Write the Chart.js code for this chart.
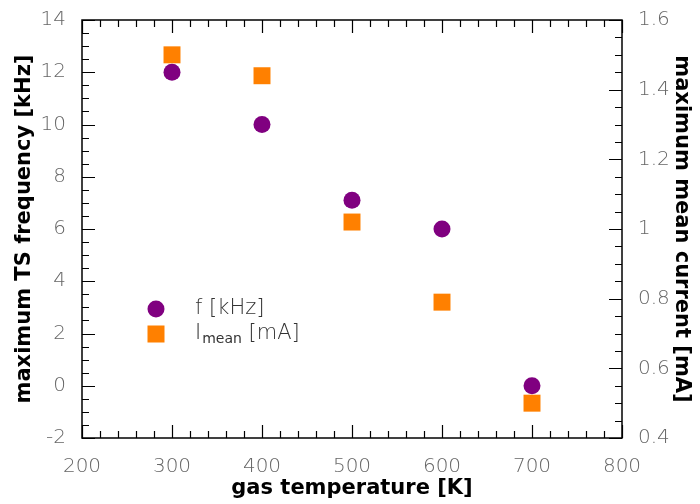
<!DOCTYPE html>
<html>
<head>
<meta charset="utf-8">
<script src="https://cdn.jsdelivr.net/npm/chart.js@4.4.0/dist/chart.umd.min.js"></script>
<style>
  html, body { margin: 0; padding: 0; background: #fff; }
  #wrap { width: 700px; height: 504px; }
</style>
</head>
<body>
<div id="wrap"><canvas id="c" width="700" height="504"></canvas></div>
<script>
// gas temperature [K]
const temps = [300, 400, 500, 600, 700];
// maximum TS frequency [kHz]
const freqKHz = [12, 10, 7.1, 6, 0];
// maximum mean current [mA]
const currentMA = [1.50, 1.44, 1.02, 0.79, 0.50];

const xTicks = [200, 300, 400, 500, 600, 700, 800];
const yLeftTicks = [-2, 0, 2, 4, 6, 8, 10, 12, 14];
const yRightTicks = [0.4, 0.6, 0.8, 1, 1.2, 1.4, 1.6];

const PURPLE = "#800080";
const ORANGE = "#ff8000";
const TICK_COL = "#666";
const tickFont = { family: "DejaVu Sans", size: 20, weight: "200" };
const titleFont = { family: "DejaVu Sans", size: 21, weight: "bold" };

// ── 내향 눈금 + 테두리 ─────────────────────────────────────
const framePlugin = {
  id: "frame",
  afterDraw(chart) {
    const { ctx, chartArea: a, scales } = chart;
    ctx.save();
    ctx.strokeStyle = "#000";
    ctx.lineWidth = 1.2;
    ctx.beginPath();
    // x: 주눈금 100, 보조 20
    for (let v = 200; v <= 800; v += 20) {
      const px = Math.round(scales.x.getPixelForValue(v)) + 0.5;
      const len = v % 100 === 0 ? 13 : 7;
      ctx.moveTo(px, a.bottom); ctx.lineTo(px, a.bottom - len);
      ctx.moveTo(px, a.top); ctx.lineTo(px, a.top + len);
    }
    // 왼쪽 y: 주눈금 2, 보조 0.5
    for (let i = 0; i <= 32; i++) {
      const v = -2 + i * 0.5;
      const py = Math.round(scales.y.getPixelForValue(v)) + 0.5;
      const len = i % 4 === 0 ? 13 : 7;
      ctx.moveTo(a.left, py); ctx.lineTo(a.left + len, py);
    }
    // 오른쪽 y: 주눈금 0.2, 보조 0.05
    for (let i = 0; i <= 24; i++) {
      const v = 0.4 + i * 0.05;
      const py = Math.round(scales.y2.getPixelForValue(v)) + 0.5;
      const len = i % 4 === 0 ? 13 : 7;
      ctx.moveTo(a.right, py); ctx.lineTo(a.right - len, py);
    }
    ctx.stroke();
    ctx.lineWidth = 1.5;
    ctx.strokeRect(a.left, a.top, a.right - a.left, a.bottom - a.top);
    ctx.restore();
  }
};

// ── 범례 (아래첨자 포함) ───────────────────────────────────
const legendPlugin = {
  id: "subLegend",
  afterDatasetsDraw(chart) {
    const { ctx, chartArea: a } = chart;
    const mx = a.left + 74, tx = a.left + 113;
    const y1 = a.top + 289, y2 = a.top + 314;
    ctx.save();
    ctx.fillStyle = PURPLE;
    ctx.beginPath(); ctx.arc(mx, y1, 8.5, 0, Math.PI * 2); ctx.fill();
    ctx.fillStyle = ORANGE;
    ctx.fillRect(mx - 8.5, y2 - 8.5, 17, 17);
    ctx.fillStyle = "#333";
    ctx.textBaseline = "middle";
    ctx.font = "200 21px 'DejaVu Sans'";
    ctx.fillText("f [kHz]", tx, y1);
    ctx.fillText("I", tx, y2);
    let w = ctx.measureText("I").width;
    ctx.font = "14px 'DejaVu Sans'";
    ctx.fillText("mean", tx + w + 1, y2 + 5);
    w += ctx.measureText("mean").width + 1;
    ctx.font = "200 21px 'DejaVu Sans'";
    ctx.fillText(" [mA]", tx + w, y2);
    ctx.restore();
  }
};

new Chart(document.getElementById("c").getContext("2d"), {
  type: "scatter",
  data: {
    datasets: [
      {
        label: "f [kHz]",
        data: temps.map((t, i) => ({ x: t, y: freqKHz[i] })),
        yAxisID: "y",
        pointStyle: "circle", pointRadius: 8.5,
        backgroundColor: PURPLE, borderWidth: 0
      },
      {
        label: "I mean [mA]",
        data: temps.map((t, i) => ({ x: t, y: currentMA[i] })),
        yAxisID: "y2",
        pointStyle: "rect", pointRadius: 12,
        backgroundColor: ORANGE, borderWidth: 0
      }
    ]
  },
  options: {
    responsive: false, animation: false, devicePixelRatio: 1,
    layout: { padding: { top: 14, left: 0, right: 0, bottom: 0 } },
    plugins: { legend: { display: false }, tooltip: { enabled: false } },
    scales: {
      x: {
        type: "linear", min: 200, max: 800,
        afterBuildTicks: s => { s.ticks = xTicks.map(v => ({ value: v })); },
        afterFit: s => { s.height = 66; },
        grid: { display: false }, border: { display: false },
        ticks: { color: TICK_COL, font: tickFont, padding: 9, maxRotation: 0 },
        title: { display: true, text: "gas temperature [K]", color: "#000", font: titleFont, padding: { top: 0, bottom: 3 } }
      },
      y: {
        type: "linear", position: "left", min: -2, max: 14,
        afterBuildTicks: s => { s.ticks = yLeftTicks.map(v => ({ value: v })); },
        afterFit: s => { s.width = 82; },
        grid: { display: false }, border: { display: false },
        ticks: { color: TICK_COL, font: tickFont, padding: 8 },
        title: { display: true, text: "maximum TS frequency [kHz]", color: "#000", font: titleFont, padding: { top: 12, bottom: 0 } }
      },
      y2: {
        type: "linear", position: "right", min: 0.4, max: 1.6,
        afterBuildTicks: s => { s.ticks = yRightTicks.map(v => ({ value: v })); },
        afterFit: s => { s.width = 78; },
        grid: { display: false }, border: { display: false },
        ticks: { color: TICK_COL, font: tickFont, padding: 8, callback: v => String(Math.round(v * 10) / 10) },
        title: { display: true, text: "maximum mean current [mA]", color: "#000", font: titleFont, padding: { top: 6, bottom: 0 } }
      }
    }
  },
  plugins: [framePlugin, legendPlugin]
});
</script>
</body>
</html>
